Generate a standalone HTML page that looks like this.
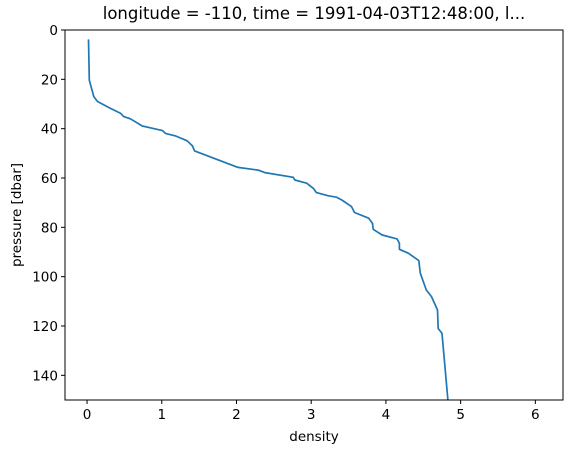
<!DOCTYPE html>
<html><head><meta charset="utf-8"><style>
body{margin:0;background:#fff;}
svg text{font-family:"DejaVu Sans","Liberation Sans",sans-serif;fill:#000;}
</style></head><body>
<svg id="chart" width="571" height="453" viewBox="0 0 571 453">
<rect width="571" height="453" fill="#fff"/>
<text x="314" y="19" font-size="16.5" text-anchor="middle">longitude = -110, time = 1991-04-03T12:48:00, l...</text>
<g id="axes"></g>
<path id="line" fill="none" stroke="#1f77b4" stroke-width="1.7" stroke-linejoin="round"/>
<rect x="65" y="30" width="498" height="370" fill="none" stroke="#000" stroke-width="1"/>
<text x="314" y="441" font-size="13.5" text-anchor="middle">density</text>
<text transform="translate(21,215) rotate(-90)" font-size="13.5" text-anchor="middle">pressure [dbar]</text>
</svg>
<script>
const density=[0.02,0.03,0.09,0.14,0.31,0.45,0.49,0.58,0.74,1.01,1.05,1.19,1.34,1.41,1.44,2.02,2.29,2.38,2.76,2.78,2.94,3.03,3.07,3.23,3.34,3.41,3.54,3.58,3.77,3.82,3.83,3.95,4.15,4.18,4.18,4.30,4.44,4.46,4.54,4.61,4.69,4.70,4.75,4.83];
const pressure=[3.8,20.3,27,29,31.7,33.8,35.1,36,38.9,40.8,41.9,43,44.9,47,49,55.7,56.8,57.8,59.7,60.8,62.1,64.2,65.9,67.2,67.8,68.9,71.6,74,76.3,78.4,80.8,83.1,84.7,86.5,88.9,90.5,93.5,98.6,105.4,108.1,113.5,121,123,150];
const xTicks=[0,1,2,3,4,5,6];
const yTicks=[0,20,40,60,80,100,120,140];
const X0=65,X1=563,Y0=30,Y1=400,xmin=-0.295,xmax=6.37,ymin=0,ymax=150;
const sx=v=>X0+(v-xmin)/(xmax-xmin)*(X1-X0);
const sy=v=>Y0+(v-ymin)/(ymax-ymin)*(Y1-Y0);
const NS="http://www.w3.org/2000/svg";
const ax=document.getElementById('axes');
function mk(t,a){const e=document.createElementNS(NS,t);for(const k in a)e.setAttribute(k,a[k]);ax.appendChild(e);return e;}
xTicks.forEach(v=>{
 const l=mk('line',{x1:sx(v),x2:sx(v),y1:Y1,y2:Y1+4,stroke:'#000'});
 
 
 const t=mk('text',{x:sx(v),y:Y1+19,'font-size':13.5,'text-anchor':'middle'});t.textContent=v;
 
 
});
yTicks.forEach(v=>{
 const l=mk('line',{x1:X0-4,x2:X0,y1:sy(v),y2:sy(v),stroke:'#000'});
 
 
 const t=mk('text',{x:X0-7,y:sy(v)+5,'font-size':13.5,'text-anchor':'end'});t.textContent=v;
 
 
});
document.getElementById('line').setAttribute('d',density.map((d,i)=>(i?'L':'M')+sx(d).toFixed(1)+','+sy(pressure[i]).toFixed(1)).join(''));
</script>
</body></html>
